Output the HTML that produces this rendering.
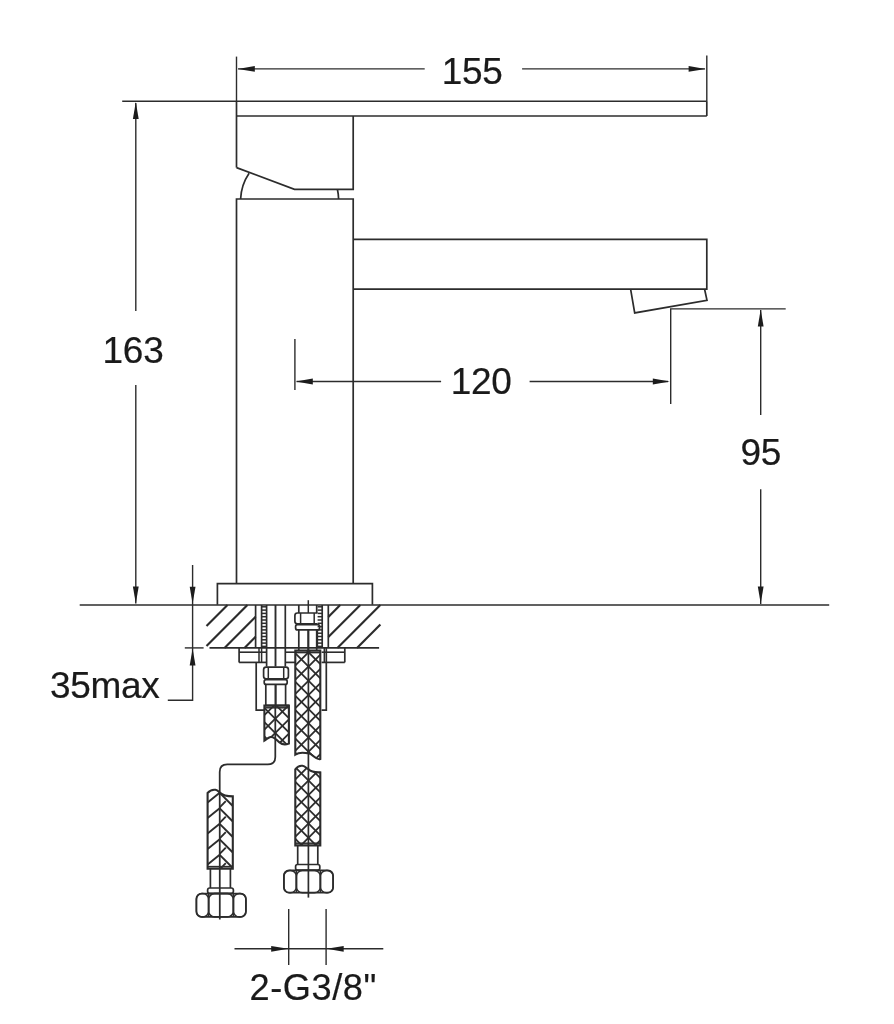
<!DOCTYPE html>
<html lang="en">
<head>
<meta charset="utf-8">
<title>Basin mixer dimensions</title>
<style>
html,body{margin:0;padding:0;background:#fff;}
body{width:894px;height:1024px;overflow:hidden;}
svg{display:block;filter:blur(0.6px);}
.d{fill:none;stroke:#2c2c2c;stroke-width:1.7;stroke-linecap:butt;stroke-linejoin:miter;}
.d .a{fill:#1c1c1c;stroke:none;}
.d text{fill:#1a1a1a;stroke:#1a1a1a;stroke-width:0.2;letter-spacing:-0.3px;font-family:"Liberation Sans",sans-serif;}
</style>
</head>
<body>
<svg width="894" height="1024" viewBox="0 0 894 1024">
<defs>
<clipPath id="h1"><path d="M295.3,650.6 L320.3,650.6 L320.3,759 C316,760.6 312.5,753.6 308.5,753.3 C304,753 300.5,751.2 295.3,754.6 Z"/></clipPath>
<clipPath id="h2"><path d="M295.3,845.4 L295.3,769.4 C297.5,766.5 300,765.4 302.5,765.8 C305.5,766.3 306.5,768.6 308.5,769.2 C312,772.6 316,772.2 320.3,772.4 L320.3,845.4 Z"/></clipPath>
<clipPath id="h3"><path d="M264.4,705.6 L288.9,705.6 L288.9,743.6 C285,745.2 282,744.6 279.5,742.4 C276.5,739.4 273.5,736.4 270.5,737 C268,737.6 266.5,739.4 264.4,740.6 Z"/></clipPath>
<clipPath id="h4"><path d="M207.6,868.6 L207.6,793 C210,790.2 213,789.4 215.5,789.8 C217.5,790.2 218.5,791.6 219.7,792.6 C223,795.6 227,796.4 232.8,796.4 L232.8,868.6 Z"/></clipPath>
</defs>
<rect x="0" y="0" width="894" height="1024" fill="#fff"/>
<g class="d">
<g id="faucet">
<line x1="236.5" y1="116.0" x2="706.8" y2="116.0"/>
<line x1="236.5" y1="101.2" x2="236.5" y2="167.6"/>
<line x1="706.8" y1="101.2" x2="706.8" y2="116.0"/>
<path d="M236.5,167.6 L294.5,189.3 L353.2,189.3 L353.2,116.0"/>
<path d="M236.5,583.7 L236.5,199 L353.2,199 L353.2,583.7"/>
<path d="M240.6,199 A49.6,49.6 0 0 1 249.1,173.2" stroke-width="1.7"/>
<path d="M338.6,199 A49.6,49.6 0 0 0 337.4,189.3" stroke-width="1.7"/>
<path d="M353.2,239.3 L706.8,239.3 L706.8,289.2 L353.2,289.2"/>
<path d="M630.6,289.2 L634.7,312.9 L707,300.4 L704.6,289.2" stroke-width="1.7"/>
<path d="M217.4,604.8 L217.4,583.7 L372.4,583.7 L372.4,604.8"/>
<line x1="79.7" y1="605.0" x2="829.2" y2="605.0"/>
</g>
<g id="dims" stroke-width="1.4">
<line x1="122.2" y1="101.2" x2="706.8" y2="101.2"/>
<line x1="236.5" y1="56.6" x2="236.5" y2="101.2"/>
<line x1="706.8" y1="55.4" x2="706.8" y2="101.2"/>
<line x1="238.0" y1="68.9" x2="424.7" y2="68.9"/>
<line x1="522.1" y1="68.9" x2="705.0" y2="68.9"/>
<polygon class="a" points="237.8,68.9 254.8,66.0 254.8,71.8"/>
<polygon class="a" points="705.6,68.9 688.6,71.8 688.6,66.0"/>
<text x="472.2" y="83.7" font-size="37" text-anchor="middle">155</text>
<line x1="135.8" y1="103.0" x2="135.8" y2="311.0"/>
<line x1="135.8" y1="385.0" x2="135.8" y2="603.5"/>
<polygon class="a" points="135.8,102.0 138.7,119.0 132.9,119.0"/>
<polygon class="a" points="135.8,603.6 132.9,586.6 138.7,586.6"/>
<text x="133.0" y="363.1" font-size="37" text-anchor="middle">163</text>
<line x1="294.9" y1="339.0" x2="294.9" y2="390.0"/>
<line x1="296.6" y1="381.5" x2="441.1" y2="381.5"/>
<line x1="529.6" y1="381.5" x2="668.0" y2="381.5"/>
<polygon class="a" points="295.8,381.5 312.8,378.6 312.8,384.4"/>
<polygon class="a" points="669.8,381.5 652.8,384.4 652.8,378.6"/>
<text x="481.2" y="394.0" font-size="37" text-anchor="middle">120</text>
<path d="M785.7,308.9 L670.7,308.9 L670.7,404"/>
<line x1="760.7" y1="310.0" x2="760.7" y2="415.0"/>
<line x1="760.7" y1="489.3" x2="760.7" y2="604.0"/>
<polygon class="a" points="760.7,309.6 763.6,326.6 757.8,326.6"/>
<polygon class="a" points="760.7,603.6 757.8,586.6 763.6,586.6"/>
<text x="760.8" y="465.3" font-size="37" text-anchor="middle">95</text>
<path d="M192.6,565 L192.6,700.2 L167.8,700.2"/>
<line x1="184.8" y1="647.9" x2="203.6" y2="647.9"/>
<polygon class="a" points="192.6,603.8 189.7,586.8 195.5,586.8"/>
<polygon class="a" points="192.6,648.6 195.5,665.6 189.7,665.6"/>
<text x="104.8" y="698.4" font-size="37" text-anchor="middle">35max</text>
<line x1="234.5" y1="948.8" x2="383.3" y2="948.8"/>
<line x1="288.7" y1="909.0" x2="288.7" y2="965.0"/>
<line x1="326.1" y1="909.0" x2="326.1" y2="965.0"/>
<polygon class="a" points="288.2,948.8 271.2,951.7 271.2,945.9"/>
<polygon class="a" points="326.7,948.8 343.7,945.9 343.7,951.7"/>
<text x="313.2" y="999.6" font-size="36.2" text-anchor="middle" style="letter-spacing:0.55px">2-G3/8"</text>
</g>
<g id="section">
<line x1="209.5" y1="647.9" x2="379.1" y2="647.9"/>
<line x1="255.6" y1="605.0" x2="255.6" y2="647.9"/>
<line x1="328.3" y1="605.0" x2="328.3" y2="647.9"/>
<line x1="206.5" y1="626.0" x2="227.5" y2="605.0" stroke-width="2.15"/>
<line x1="206.5" y1="645.9" x2="247.4" y2="605.0" stroke-width="2.15"/>
<line x1="224.5" y1="647.9" x2="255.6" y2="616.8" stroke-width="2.15"/>
<line x1="244.5" y1="647.9" x2="255.6" y2="636.8" stroke-width="2.15"/>
<line x1="328.3" y1="616.9" x2="340.2" y2="605.0" stroke-width="2.15"/>
<line x1="328.3" y1="637.0" x2="360.3" y2="605.0" stroke-width="2.15"/>
<line x1="337.4" y1="647.9" x2="380.3" y2="605.0" stroke-width="2.15"/>
<line x1="357.0" y1="647.9" x2="380.4" y2="624.5" stroke-width="2.15"/>
<line x1="261.6" y1="605.0" x2="261.6" y2="647.9"/>
<line x1="266.6" y1="605.0" x2="266.6" y2="666.6"/>
<line x1="261.6" y1="606.8" x2="266.6" y2="606.8" stroke-width="1.5"/>
<line x1="261.6" y1="610.1" x2="266.6" y2="610.1" stroke-width="1.5"/>
<line x1="261.6" y1="613.4" x2="266.6" y2="613.4" stroke-width="1.5"/>
<line x1="261.6" y1="616.7" x2="266.6" y2="616.7" stroke-width="1.5"/>
<line x1="261.6" y1="620.0" x2="266.6" y2="620.0" stroke-width="1.5"/>
<line x1="261.6" y1="623.3" x2="266.6" y2="623.3" stroke-width="1.5"/>
<line x1="261.6" y1="626.6" x2="266.6" y2="626.6" stroke-width="1.5"/>
<line x1="261.6" y1="629.9" x2="266.6" y2="629.9" stroke-width="1.5"/>
<line x1="261.6" y1="633.2" x2="266.6" y2="633.2" stroke-width="1.5"/>
<line x1="261.6" y1="636.5" x2="266.6" y2="636.5" stroke-width="1.5"/>
<line x1="261.6" y1="639.8" x2="266.6" y2="639.8" stroke-width="1.5"/>
<line x1="261.6" y1="643.1" x2="266.6" y2="643.1" stroke-width="1.5"/>
<line x1="261.6" y1="646.4" x2="266.6" y2="646.4" stroke-width="1.5"/>
<line x1="275.5" y1="605.0" x2="275.5" y2="666.6" stroke-width="1.9"/>
<line x1="285.3" y1="605.0" x2="285.3" y2="666.6"/>
<line x1="322.2" y1="605.0" x2="322.2" y2="647.9"/>
<line x1="317.4" y1="629.9" x2="317.4" y2="647.9" stroke-width="1.5"/>
<line x1="317.6" y1="606.8" x2="322.2" y2="606.8" stroke-width="1.5"/>
<line x1="317.6" y1="610.1" x2="322.2" y2="610.1" stroke-width="1.5"/>
<line x1="317.6" y1="613.4" x2="322.2" y2="613.4" stroke-width="1.5"/>
<line x1="317.6" y1="616.7" x2="322.2" y2="616.7" stroke-width="1.5"/>
<line x1="317.6" y1="620.0" x2="322.2" y2="620.0" stroke-width="1.5"/>
<line x1="317.6" y1="623.3" x2="322.2" y2="623.3" stroke-width="1.5"/>
<line x1="317.6" y1="626.6" x2="322.2" y2="626.6" stroke-width="1.5"/>
<line x1="317.6" y1="629.9" x2="322.2" y2="629.9" stroke-width="1.5"/>
<line x1="317.6" y1="633.2" x2="322.2" y2="633.2" stroke-width="1.5"/>
<line x1="317.6" y1="636.5" x2="322.2" y2="636.5" stroke-width="1.5"/>
<line x1="317.6" y1="639.8" x2="322.2" y2="639.8" stroke-width="1.5"/>
<line x1="317.6" y1="643.1" x2="322.2" y2="643.1" stroke-width="1.5"/>
<line x1="317.6" y1="646.4" x2="322.2" y2="646.4" stroke-width="1.5"/>
<line x1="308.3" y1="600.2" x2="308.3" y2="613.0" stroke-width="1.5"/>
<line x1="298.8" y1="605.0" x2="298.8" y2="613.0"/>
<line x1="316.7" y1="605.0" x2="316.7" y2="613.0"/>
<path d="M317.4,613 L297.4,613 Q294.9,613 294.9,615.5 L294.9,621.3 Q294.9,623.8 297.4,623.8 L317.4,623.8"/>
<line x1="300.6" y1="613.0" x2="300.6" y2="623.8" stroke-width="1.5"/>
<line x1="314.2" y1="613.0" x2="314.2" y2="623.8" stroke-width="1.5"/>
<rect x="295.6" y="624.6" width="24.0" height="5.3" rx="2"/>
<line x1="298.8" y1="629.9" x2="298.8" y2="650.0"/>
<line x1="316.7" y1="629.9" x2="316.7" y2="650.0"/>
<line x1="308.3" y1="629.9" x2="308.3" y2="650.0" stroke-width="2.2"/>
<line x1="239.1" y1="647.9" x2="239.1" y2="662.4"/>
<line x1="344.8" y1="647.9" x2="344.8" y2="662.4"/>
<line x1="239.1" y1="652.2" x2="266.6" y2="652.2" stroke-width="1.6"/>
<line x1="239.1" y1="662.4" x2="266.6" y2="662.4"/>
<line x1="285.3" y1="652.2" x2="295.4" y2="652.2" stroke-width="1.6"/>
<line x1="285.3" y1="662.4" x2="295.4" y2="662.4"/>
<line x1="321.6" y1="652.2" x2="344.8" y2="652.2" stroke-width="1.6"/>
<line x1="321.6" y1="662.4" x2="344.8" y2="662.4"/>
<line x1="259.0" y1="647.9" x2="259.0" y2="662.4" stroke-width="1.5"/>
<line x1="261.6" y1="647.9" x2="261.6" y2="662.4" stroke-width="1.5"/>
<line x1="324.3" y1="647.9" x2="324.3" y2="662.4" stroke-width="1.5"/>
<path d="M256.2,662.4 L256.2,710.1 L264.9,710.1"/>
<path d="M326.3,647.9 L326.3,710.1 L321.6,710.1"/>
<rect x="263.6" y="667.2" width="24.8" height="11.6" rx="2.5"/>
<line x1="268.3" y1="667.2" x2="268.3" y2="678.8" stroke-width="1.5"/>
<line x1="283.7" y1="667.2" x2="283.7" y2="678.8" stroke-width="1.5"/>
<rect x="264.2" y="679.6" width="23.0" height="4.8" rx="2"/>
<line x1="265.8" y1="684.4" x2="265.8" y2="705.4"/>
<line x1="285.6" y1="684.4" x2="285.6" y2="705.4"/>
<line x1="275.6" y1="684.4" x2="275.6" y2="705.4" stroke-width="2.2"/>
<line x1="265.2" y1="705.4" x2="289.0" y2="705.4"/>
<line x1="265.2" y1="707.8" x2="289.0" y2="707.8" stroke-width="1.5"/>
</g>
<g id="hoses">
<g clip-path="url(#h1)" stroke-width="1.8">
<line x1="268.5" y1="555.5" x2="348.5" y2="635.5"/>
<line x1="268.5" y1="635.5" x2="348.5" y2="555.5"/>
<line x1="268.5" y1="569.7" x2="348.5" y2="649.7"/>
<line x1="268.5" y1="649.7" x2="348.5" y2="569.7"/>
<line x1="268.5" y1="583.9" x2="348.5" y2="663.9"/>
<line x1="268.5" y1="663.9" x2="348.5" y2="583.9"/>
<line x1="268.5" y1="598.1" x2="348.5" y2="678.1"/>
<line x1="268.5" y1="678.1" x2="348.5" y2="598.1"/>
<line x1="268.5" y1="612.3" x2="348.5" y2="692.3"/>
<line x1="268.5" y1="692.3" x2="348.5" y2="612.3"/>
<line x1="268.5" y1="626.5" x2="348.5" y2="706.5"/>
<line x1="268.5" y1="706.5" x2="348.5" y2="626.5"/>
<line x1="268.5" y1="640.7" x2="348.5" y2="720.7"/>
<line x1="268.5" y1="720.7" x2="348.5" y2="640.7"/>
<line x1="268.5" y1="654.9" x2="348.5" y2="734.9"/>
<line x1="268.5" y1="734.9" x2="348.5" y2="654.9"/>
<line x1="268.5" y1="669.1" x2="348.5" y2="749.1"/>
<line x1="268.5" y1="749.1" x2="348.5" y2="669.1"/>
<line x1="268.5" y1="683.3" x2="348.5" y2="763.3"/>
<line x1="268.5" y1="763.3" x2="348.5" y2="683.3"/>
<line x1="268.5" y1="697.5" x2="348.5" y2="777.5"/>
<line x1="268.5" y1="777.5" x2="348.5" y2="697.5"/>
<line x1="268.5" y1="711.7" x2="348.5" y2="791.7"/>
<line x1="268.5" y1="791.7" x2="348.5" y2="711.7"/>
<line x1="268.5" y1="725.9" x2="348.5" y2="805.9"/>
<line x1="268.5" y1="805.9" x2="348.5" y2="725.9"/>
<line x1="268.5" y1="740.1" x2="348.5" y2="820.1"/>
<line x1="268.5" y1="820.1" x2="348.5" y2="740.1"/>
<line x1="268.5" y1="754.3" x2="348.5" y2="834.3"/>
<line x1="268.5" y1="834.3" x2="348.5" y2="754.3"/>
<line x1="268.5" y1="768.5" x2="348.5" y2="848.5"/>
<line x1="268.5" y1="848.5" x2="348.5" y2="768.5"/>
</g>
<path d="M295.3,650.6 L320.3,650.6 L320.3,759 C316,760.6 312.5,753.6 308.5,753.3 C304,753 300.5,751.2 295.3,754.6 Z" stroke-width="2.1"/>
<line x1="295.3" y1="652.6" x2="320.3" y2="652.6" stroke-width="1.5"/>
<g clip-path="url(#h2)" stroke-width="1.8">
<line x1="268.5" y1="669.1" x2="348.5" y2="749.1"/>
<line x1="268.5" y1="749.1" x2="348.5" y2="669.1"/>
<line x1="268.5" y1="683.4" x2="348.5" y2="763.4"/>
<line x1="268.5" y1="763.4" x2="348.5" y2="683.4"/>
<line x1="268.5" y1="697.7" x2="348.5" y2="777.7"/>
<line x1="268.5" y1="777.7" x2="348.5" y2="697.7"/>
<line x1="268.5" y1="712.0" x2="348.5" y2="792.0"/>
<line x1="268.5" y1="792.0" x2="348.5" y2="712.0"/>
<line x1="268.5" y1="726.3" x2="348.5" y2="806.3"/>
<line x1="268.5" y1="806.3" x2="348.5" y2="726.3"/>
<line x1="268.5" y1="740.6" x2="348.5" y2="820.6"/>
<line x1="268.5" y1="820.6" x2="348.5" y2="740.6"/>
<line x1="268.5" y1="754.9" x2="348.5" y2="834.9"/>
<line x1="268.5" y1="834.9" x2="348.5" y2="754.9"/>
<line x1="268.5" y1="769.2" x2="348.5" y2="849.2"/>
<line x1="268.5" y1="849.2" x2="348.5" y2="769.2"/>
<line x1="268.5" y1="783.5" x2="348.5" y2="863.5"/>
<line x1="268.5" y1="863.5" x2="348.5" y2="783.5"/>
<line x1="268.5" y1="797.8" x2="348.5" y2="877.8"/>
<line x1="268.5" y1="877.8" x2="348.5" y2="797.8"/>
<line x1="268.5" y1="812.1" x2="348.5" y2="892.1"/>
<line x1="268.5" y1="892.1" x2="348.5" y2="812.1"/>
<line x1="268.5" y1="826.4" x2="348.5" y2="906.4"/>
<line x1="268.5" y1="906.4" x2="348.5" y2="826.4"/>
<line x1="268.5" y1="840.7" x2="348.5" y2="920.7"/>
<line x1="268.5" y1="920.7" x2="348.5" y2="840.7"/>
<line x1="268.5" y1="855.0" x2="348.5" y2="935.0"/>
<line x1="268.5" y1="935.0" x2="348.5" y2="855.0"/>
</g>
<path d="M295.3,845.4 L295.3,769.4 C297.5,766.5 300,765.4 302.5,765.8 C305.5,766.3 306.5,768.6 308.5,769.2 C312,772.6 316,772.2 320.3,772.4 L320.3,845.4 Z" stroke-width="2.1"/>
<line x1="295.3" y1="843.2" x2="320.3" y2="843.2" stroke-width="1.5"/>
<line x1="308.4" y1="650.0" x2="308.4" y2="897.6" stroke-width="1.7"/>
<line x1="297.7" y1="845.4" x2="297.7" y2="864.5"/>
<line x1="317.8" y1="845.4" x2="317.8" y2="864.5"/>
<rect x="295.6" y="864.5" width="24.2" height="5.7" rx="2"/>
<rect x="283.9" y="870.4" width="49.2" height="22.3" rx="5"/>
<rect x="283.9" y="870.4" width="12.5" height="22.3" rx="5.95" stroke-width="1.5"/>
<rect x="296.4" y="870.4" width="24.0" height="22.3" rx="6" stroke-width="1.5"/>
<rect x="320.4" y="870.4" width="12.7" height="22.3" rx="6" stroke-width="1.5"/>
<line x1="296.4" y1="870.4" x2="296.4" y2="892.7" stroke-width="1.5"/>
<line x1="320.4" y1="870.4" x2="320.4" y2="892.7" stroke-width="1.5"/>
<g clip-path="url(#h3)" stroke-width="1.8">
<line x1="235.2" y1="621.5" x2="315.2" y2="701.5"/>
<line x1="235.2" y1="701.5" x2="315.2" y2="621.5"/>
<line x1="235.2" y1="635.8" x2="315.2" y2="715.8"/>
<line x1="235.2" y1="715.8" x2="315.2" y2="635.8"/>
<line x1="235.2" y1="650.1" x2="315.2" y2="730.1"/>
<line x1="235.2" y1="730.1" x2="315.2" y2="650.1"/>
<line x1="235.2" y1="664.4" x2="315.2" y2="744.4"/>
<line x1="235.2" y1="744.4" x2="315.2" y2="664.4"/>
<line x1="235.2" y1="678.7" x2="315.2" y2="758.7"/>
<line x1="235.2" y1="758.7" x2="315.2" y2="678.7"/>
<line x1="235.2" y1="693.0" x2="315.2" y2="773.0"/>
<line x1="235.2" y1="773.0" x2="315.2" y2="693.0"/>
<line x1="235.2" y1="707.3" x2="315.2" y2="787.3"/>
<line x1="235.2" y1="787.3" x2="315.2" y2="707.3"/>
<line x1="235.2" y1="721.6" x2="315.2" y2="801.6"/>
<line x1="235.2" y1="801.6" x2="315.2" y2="721.6"/>
<line x1="235.2" y1="735.9" x2="315.2" y2="815.9"/>
<line x1="235.2" y1="815.9" x2="315.2" y2="735.9"/>
<line x1="235.2" y1="750.2" x2="315.2" y2="830.2"/>
<line x1="235.2" y1="830.2" x2="315.2" y2="750.2"/>
</g>
<path d="M264.4,705.6 L288.9,705.6 L288.9,743.6 C285,745.2 282,744.6 279.5,742.4 C276.5,739.4 273.5,736.4 270.5,737 C268,737.6 266.5,739.4 264.4,740.6 Z" stroke-width="2.1"/>
<path d="M275.3,705.6 L275.3,757 Q275.3,764.4 267.8,764.4 L227.2,764.4 Q219.7,764.4 219.7,771.9 L219.8,919.6" stroke-width="1.75"/>
<g clip-path="url(#h4)" stroke-width="1.9">
<line x1="207.6" y1="786.9" x2="219.7" y2="777.3"/>
<line x1="219.7" y1="777.3" x2="232.8" y2="790.5"/>
<line x1="219.7" y1="791.8" x2="225.8" y2="785.6"/>
<line x1="207.6" y1="802.4" x2="219.7" y2="792.8"/>
<line x1="219.7" y1="792.8" x2="232.8" y2="806.0"/>
<line x1="219.7" y1="807.3" x2="225.8" y2="801.1"/>
<line x1="207.6" y1="817.9" x2="219.7" y2="808.3"/>
<line x1="219.7" y1="808.3" x2="232.8" y2="821.5"/>
<line x1="219.7" y1="822.8" x2="225.8" y2="816.6"/>
<line x1="207.6" y1="833.4" x2="219.7" y2="823.8"/>
<line x1="219.7" y1="823.8" x2="232.8" y2="837.0"/>
<line x1="219.7" y1="838.3" x2="225.8" y2="832.1"/>
<line x1="207.6" y1="848.9" x2="219.7" y2="839.3"/>
<line x1="219.7" y1="839.3" x2="232.8" y2="852.5"/>
<line x1="219.7" y1="853.8" x2="225.8" y2="847.6"/>
<line x1="207.6" y1="864.4" x2="219.7" y2="854.8"/>
<line x1="219.7" y1="854.8" x2="232.8" y2="868.0"/>
<line x1="219.7" y1="869.3" x2="225.8" y2="863.1"/>
<line x1="207.6" y1="879.9" x2="219.7" y2="870.3"/>
<line x1="219.7" y1="870.3" x2="232.8" y2="883.5"/>
<line x1="219.7" y1="884.8" x2="225.8" y2="878.6"/>
<line x1="207.6" y1="895.4" x2="219.7" y2="885.8"/>
<line x1="219.7" y1="885.8" x2="232.8" y2="899.0"/>
<line x1="219.7" y1="900.3" x2="225.8" y2="894.1"/>
</g>
<path d="M207.6,868.6 L207.6,793 C210,790.2 213,789.4 215.5,789.8 C217.5,790.2 218.5,791.6 219.7,792.6 C223,795.6 227,796.4 232.8,796.4 L232.8,868.6 Z" stroke-width="2.1"/>
<line x1="207.6" y1="866.6" x2="232.8" y2="866.6" stroke-width="1.5"/>
<line x1="210.4" y1="868.6" x2="210.4" y2="888.0"/>
<line x1="230.4" y1="868.6" x2="230.4" y2="888.0"/>
<rect x="207.6" y="888.0" width="25.8" height="5.4" rx="2.2"/>
<rect x="196.4" y="893.6" width="49.5" height="23.3" rx="5"/>
<rect x="196.4" y="893.6" width="12.2" height="23.3" rx="5.7999999999999945" stroke-width="1.5"/>
<rect x="208.6" y="893.6" width="24.8" height="23.3" rx="6" stroke-width="1.5"/>
<rect x="233.4" y="893.6" width="12.5" height="23.3" rx="5.95" stroke-width="1.5"/>
<line x1="208.6" y1="893.6" x2="208.6" y2="916.9" stroke-width="1.5"/>
<line x1="233.4" y1="893.6" x2="233.4" y2="916.9" stroke-width="1.5"/>
</g>
</g>
</svg>
</body>
</html>
